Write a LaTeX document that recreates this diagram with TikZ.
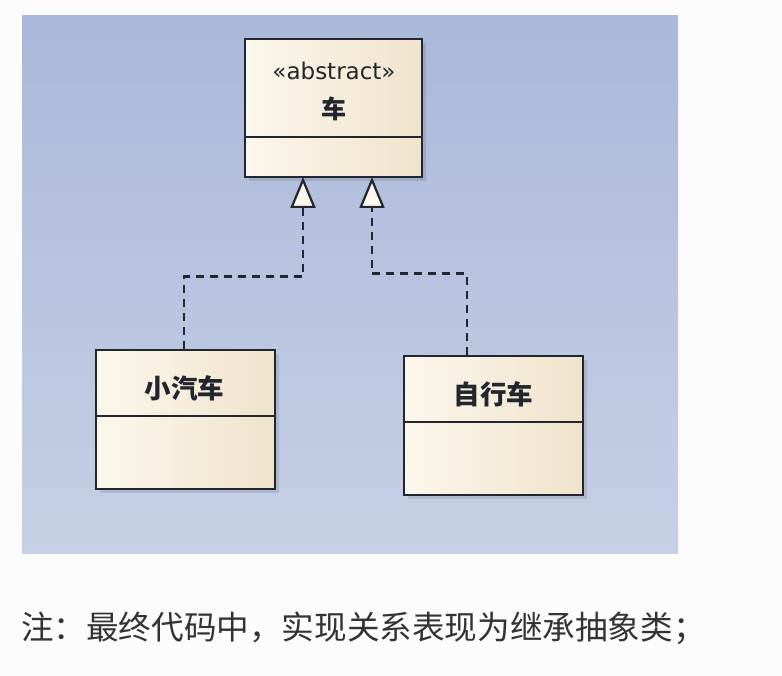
\documentclass[tikz,border=0pt]{standalone}
\usepackage{fontspec}
\setmainfont{Noto Sans CJK SC}
\newfontfamily\latinfont{DejaVu Sans}
\usetikzlibrary{arrows.meta}
\definecolor{pagebg}{HTML}{FCFCFC}
\definecolor{bgtop}{HTML}{AAB8D9}
\definecolor{bgbot}{HTML}{C6D0E6}
\definecolor{boxl}{HTML}{FCF7EC}
\definecolor{boxr}{HTML}{EFE3CB}
\definecolor{ink}{HTML}{22262F}
\definecolor{note}{HTML}{333333}
\tikzset{
  classbox/.style={draw=ink, line width=2.6pt, rectangle, left color=boxl, right color=boxr, minimum width=179pt, minimum height=139pt, inner sep=0pt},
  shadowbox/.style={fill=black, opacity=0.10, draw=none},
  realize/.style={draw=ink, line width=2.6pt, dash pattern=on 8pt off 6pt, line join=miter,
    -{Triangle[width=25pt,length=31pt,fill=boxl,line width=2.2pt]}},
  divider/.style={draw=ink, line width=2.6pt},
}
\begin{document}
\begin{tikzpicture}[x=1pt,y=-1pt]
\useasboundingbox[fill=pagebg] (0,0) rectangle (782,676);
\fill[top color=bgtop, bottom color=bgbot] (22,16) rectangle (678,553);
% shadows
\fill[shadowbox] (249,43) rectangle (426,181);
\fill[shadowbox] (100,354) rectangle (279,493);
\fill[shadowbox] (408,360) rectangle (587,499);
% classes
\node[classbox, minimum width=177pt, minimum height=138pt] (che) at (333.5,108) {};
\node[classbox] (xiao) at (185.5,419.5) {};
\node[classbox] (zi) at (493.5,425.5) {};
\draw[divider] (che.west |- 0,137) -- (che.east |- 0,137);
\draw[divider] (xiao.west |- 0,416) -- (xiao.east |- 0,416);
\draw[divider] (zi.west |- 0,422) -- (zi.east |- 0,422);
\node[font=\latinfont\fontsize{23}{26}\selectfont, text=ink] (stereo) at (334,71) {«abstract»};
\node[font=\fontsize{25}{28}\selectfont\bfseries, text=ink] (chename) at (333.5,109) {车};
\node[font=\fontsize{26.5}{30}\selectfont\bfseries, text=ink] (xiaoname) at (184.5,388) {小汽车};
\node[font=\fontsize{26.5}{30}\selectfont\bfseries, text=ink] (ziname) at (493.5,394) {自行车};
% connectors
\coordinate (t1) at (303,177);
\coordinate (t2) at (372,177);
\draw[realize] ([xshift=-1.5pt]xiao.north) -- ++(0,-72) -| (t1);
\draw[realize] ([xshift=-26.5pt]zi.north) -- ++(0,-81) -| (t2);
% note
\node[anchor=west, inner sep=0pt, text=note, font=\fontsize{32.6}{37}\selectfont] (notetext) at (21,628) {注：最终代码中，实现关系表现为继承抽象类；};
\end{tikzpicture}
\end{document}
